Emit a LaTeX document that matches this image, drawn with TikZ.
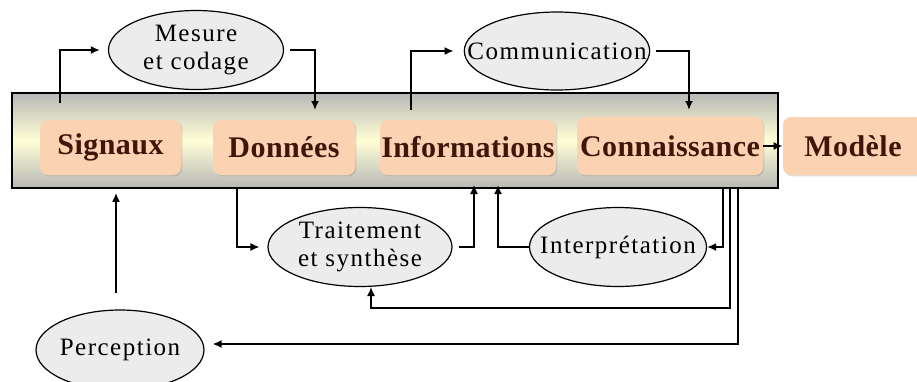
\documentclass[tikz,border=0pt]{standalone}
\usepackage{fontspec}
\setmainfont{Liberation Serif}
\usetikzlibrary{shapes.geometric,arrows.meta,shadows}

\definecolor{peach}{RGB}{251,211,178}
\definecolor{bandgray}{RGB}{184,184,182}
\definecolor{bandyel}{RGB}{255,255,214}
\definecolor{brun}{RGB}{62,22,10}
\definecolor{ovalgray}{RGB}{236,236,236}

\tikzset{
  band/.style={rectangle, draw, line width=0.8pt, top color=bandgray, bottom color=bandgray, middle color=bandyel},
  etat/.style={rectangle, rounded corners=4pt, fill=peach, text=brun, inner sep=0pt,
    drop shadow={shadow xshift=0.7pt, shadow yshift=-0.7pt, opacity=0.25},
    font=\fontsize{15}{15}\selectfont\bfseries\addfontfeature{LetterSpace=1.5}},
  proc/.style={ellipse, draw, line width=0.6pt, fill=ovalgray, inner xsep=-12pt, inner ysep=0pt, align=center,
    font=\fontsize{12.5}{14}\selectfont\addfontfeature{LetterSpace=6}},
  fl/.style={-{Latex[length=4.5pt,width=4pt]}, line width=0.6pt},
  fl2/.style={fl, line width=1.1pt},
}

\begin{document}
\begin{tikzpicture}[x=0.5pt,y=-0.5pt]
\useasboundingbox (0,0) rectangle (917,381);

% bandeau et etats
\node[band, minimum width=383pt, minimum height=47.5pt] (band) at (395,140.5) {};
\node[etat, minimum width=70.5pt, minimum height=27.5pt] (sig) at (110.5,147.5) {Signaux};
\node[etat, minimum width=71pt, minimum height=27.5pt] (don) at (284,147.5) {Données};
\node[etat, minimum width=88pt, minimum height=27.5pt] (inf) at (468,147.5) {Informations};
\node[etat, minimum width=93pt, minimum height=29pt] (con) at (670,146) {Connaissance};
\node[etat, minimum width=70pt, minimum height=29pt] (mod) at (853,146) {Modèle};

% processus
\node[proc, minimum width=87.5pt, minimum height=39.5pt] (mes) at (196,50) {Mesure\\et codage};
\node[proc, minimum width=92.5pt, minimum height=39pt] (com) at (557,51) {Communication};
\node[proc, minimum width=92pt, minimum height=39.5pt] (tra) at (360,247) {Traitement\\et synthèse};
\node[proc, minimum width=88.5pt, minimum height=39.5pt] (int) at (618,247) {Interprétation};
\node[proc, minimum width=84pt, minimum height=40pt] (per) at (120,350) {Perception};

% points de depart / arrivee
\coordinate (s1) at (60,103);
\coordinate (d1) at (315,110);
\coordinate (i1) at (411,110);
\coordinate (c1) at (689,110);
\coordinate (d2) at (237,188);
\coordinate (i2) at (474,185);
\coordinate (i3) at (498,185);
\coordinate (c2) at (723,188);
\coordinate (c3) at (730,188);
\coordinate (c4) at (738,188);
\coordinate (t1) at (371,308);

% fleches
\draw[fl2, shorten >=4pt] (s1) |- (mes.west);
\draw[fl2, shorten <=3pt] (mes.east) -| (d1);
\draw[fl2, shorten >=5pt] (i1) |- (com.west);
\draw[fl2, shorten <=3pt] (com.east) -| (c1);
\draw[fl2] (con.east) -- (mod.west);
\draw[fl, shorten >=4pt] (d2) |- (tra.west);
\draw[fl, shorten <=3pt] (tra.east) -| (i2);
\draw[fl2] (int.west) -| (i3);
\draw[fl2] (c2) |- (int.east);
\draw[fl] (c3) |- (t1) -- (tra.south -| t1);
\draw[fl2, shorten >=4pt] (c4) |- ([yshift=3pt]per.east);
\draw[fl2, shorten <=8pt, shorten >=2pt] (per.north -| 116,0) -- (band.south -| 116,0);
\end{tikzpicture}
\end{document}
